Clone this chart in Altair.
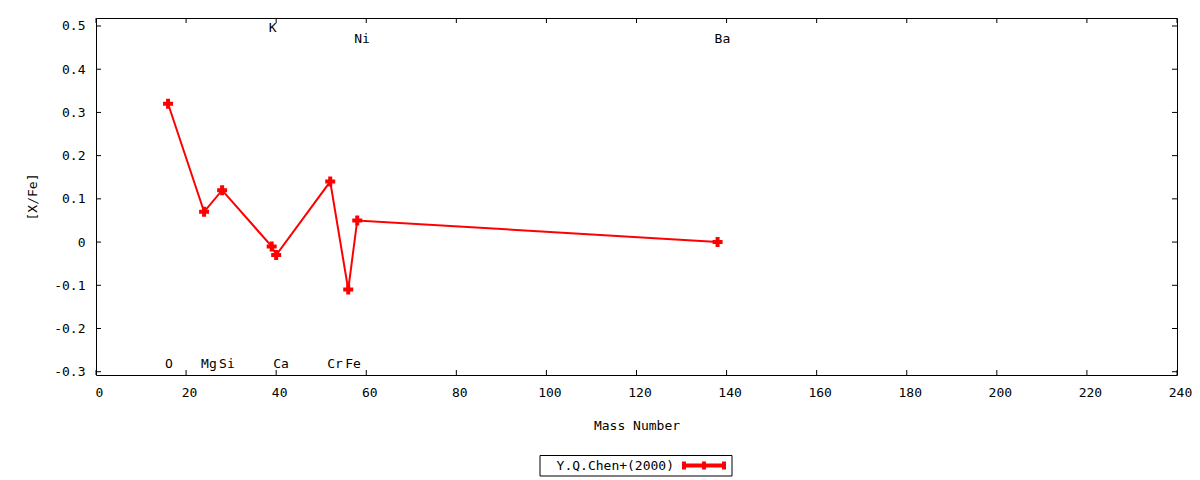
import altair as alt
import pandas as pd

# ---- data ----
elements = ["O", "Mg", "Si", "K", "Ca", "Cr", "Fe", "Ni", "Ba"]
mass = [16, 24, 28, 39, 40, 52, 56, 58, 138]
xfe = [0.32, 0.07, 0.12, -0.01, -0.03, 0.14, -0.11, 0.05, 0.00]
label_y = [-0.282, -0.282, -0.282, 0.495, -0.282, -0.282, -0.282, 0.471, 0.471]
x_ticks = [0, 20, 40, 60, 80, 100, 120, 140, 160, 180, 200, 220, 240]
y_ticks = [-0.3, -0.2, -0.1, 0.0, 0.1, 0.2, 0.3, 0.4, 0.5]
series_name = "Y.Q.Chen+(2000)"

FONT = "DejaVu Sans Mono"
FS = 13
W, H = 1081, 357
RED = "#ff0000"

df = pd.DataFrame({"el": elements, "mass": mass, "xfe": xfe, "ly": label_y})
xt = pd.DataFrame({"t": x_ticks})
yt = pd.DataFrame({"t": y_ticks})
one = pd.DataFrame({"name": [series_name]})

xscale = alt.Scale(domain=[0, 240], nice=False, zero=False)
yscale = alt.Scale(domain=[-0.3076, 0.5185], nice=False, zero=False)

xaxis = alt.Axis(
    title="Mass Number", values=x_ticks, ticks=False, tickSize=0, domain=False,
    grid=False, labelPadding=11, labelFont=FONT, labelFontSize=FS, labelColor="black",
    labelFlush=False, labelOverlap=False, labelOffset=3,
    titleFont=FONT, titleFontSize=FS, titleFontWeight="normal", titleColor="black",
    titleY=50, titleBaseline="middle",
)
yaxis = alt.Axis(
    title="[X/Fe]", values=y_ticks, ticks=False, tickSize=0, domain=False,
    grid=False, labelPadding=11, labelFont=FONT, labelFontSize=FS, labelColor="black",
    labelFlush=False, labelOverlap=False,
    labelExpr="abs(datum.value) < 1e-9 ? '0' : (datum.value < 0 ? '-' + format(-datum.value, '.1f') : format(datum.value, '.1f'))",
    titleFont=FONT, titleFontSize=FS, titleFontWeight="normal", titleColor="black",
    titleX=-64, titleY=H / 2, titleBaseline="middle", titleAngle=-90,
)

base = alt.Chart(df)
line = base.mark_line(color=RED, strokeWidth=2).encode(
    x=alt.X("mass:Q", scale=xscale, axis=xaxis),
    y=alt.Y("xfe:Q", scale=yscale, axis=yaxis),
)
pts = base.mark_point(shape="cross", filled=True, size=100, color=RED, opacity=1).encode(
    x=alt.X("mass:Q", scale=xscale), y=alt.Y("xfe:Q", scale=yscale)
)
labels = base.mark_text(align="left", dx=-3, baseline="middle", font=FONT, fontSize=FS, color="black").encode(
    x=alt.X("mass:Q", scale=xscale), y=alt.Y("ly:Q", scale=yscale), text="el:N"
)

TL = 5
xt_bot = alt.Chart(xt).mark_rule(color="black", strokeWidth=1).encode(
    x=alt.X("t:Q", scale=xscale), y=alt.value(H), y2=alt.value(H - TL))
xt_top = alt.Chart(xt).mark_rule(color="black", strokeWidth=1).encode(
    x=alt.X("t:Q", scale=xscale), y=alt.value(0), y2=alt.value(TL))
yt_left = alt.Chart(yt).mark_rule(color="black", strokeWidth=1).encode(
    y=alt.Y("t:Q", scale=yscale), x=alt.value(0), x2=alt.value(TL))
yt_right = alt.Chart(yt).mark_rule(color="black", strokeWidth=1).encode(
    y=alt.Y("t:Q", scale=yscale), x=alt.value(W), x2=alt.value(W - TL))

# ---- legend (gnuplot style key below the plot) ----
LY = 447.5
leg_box = alt.Chart(one).mark_rect(fill="white", stroke="black", strokeWidth=1).encode(
    x=alt.value(444), x2=alt.value(636), y=alt.value(437.5), y2=alt.value(458))
leg_text = alt.Chart(one).mark_text(align="right", baseline="middle", font=FONT, fontSize=FS, color="black").encode(
    x=alt.value(578), y=alt.value(LY), text="name:N")
leg_line = alt.Chart(one).mark_rule(color=RED, strokeWidth=4).encode(
    x=alt.value(586), x2=alt.value(630), y=alt.value(LY))
bars = [
    alt.Chart(one).mark_rule(color=RED, strokeWidth=4).encode(
        x=alt.value(bx), y=alt.value(LY - 4), y2=alt.value(LY + 4))
    for bx in (588, 608, 628)
]

chart = alt.layer(
    xt_bot, xt_top, yt_left, yt_right, line, pts, labels,
    leg_box, leg_text, leg_line, *bars
).properties(
    width=W, height=H,
    autosize=alt.AutoSizeParams(type="none"),
    padding={"left": 88, "top": 10, "right": 15, "bottom": 120},
    background="white",
).configure_view(stroke="black", strokeWidth=1)

chart.save("out.html", embed_options={"renderer": "svg", "actions": False})
